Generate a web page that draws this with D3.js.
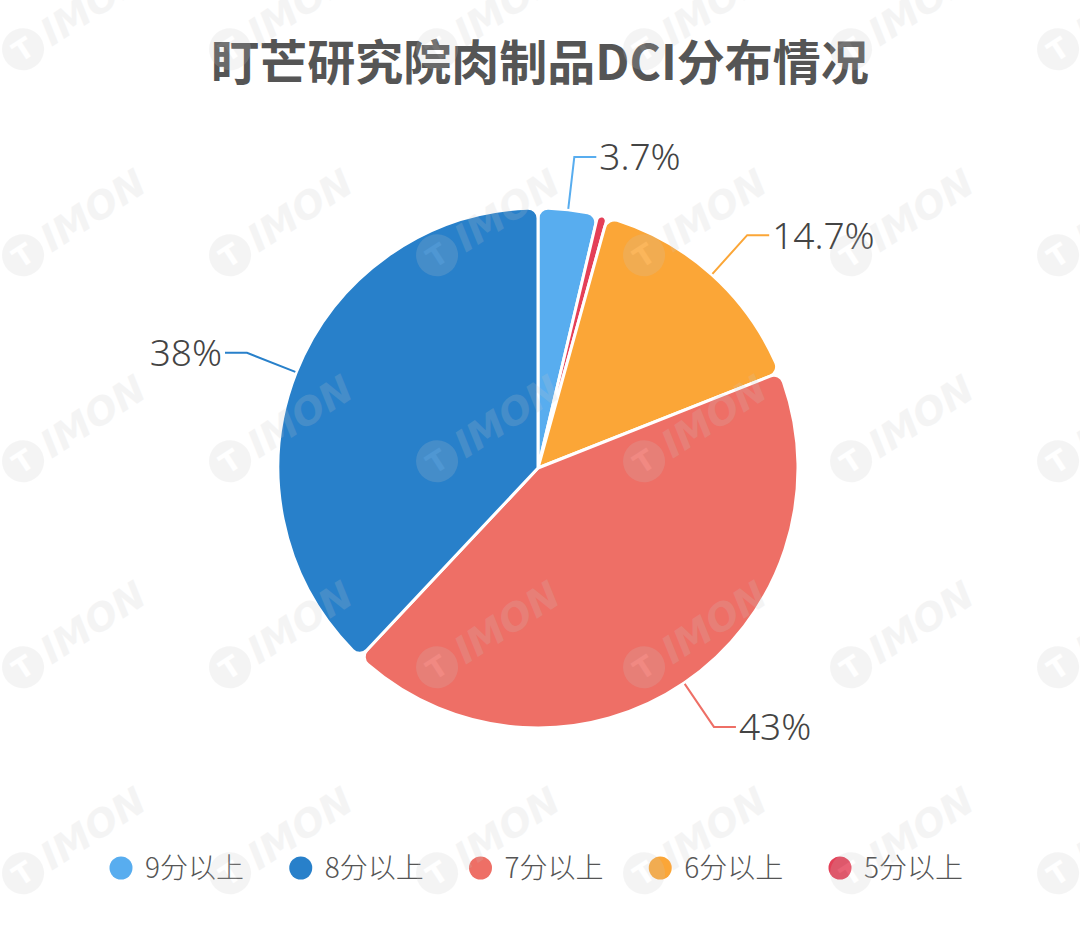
<!DOCTYPE html>
<html><head><meta charset="utf-8">
<script src="https://cdn.jsdelivr.net/npm/d3@7"></script>
<style>html,body{margin:0;padding:0;background:#fff;}svg{display:block;}</style>
</head><body>
<svg id="chart" width="1080" height="933"></svg>
<script>
const title = "盯芒研究院肉制品DCI分布情况";
const categories = ["9分以上", "5分以上", "6分以上", "7分以上", "8分以上"];
const values = [3.7, 0.6, 14.7, 43, 38];
const colors = ["#58ADEF", "#E43F57", "#FBA637", "#EE6F66", "#2880CA"];
const showLabel = [true, false, true, true, true];
const legendOrder = ["9分以上", "8分以上", "7分以上", "6分以上", "5分以上"];

const W = 1080, H = 933;
const svg = d3.select("#chart");
svg.append("rect").attr("width", W).attr("height", H).attr("fill", "#fff");

const cx = 538, cy = 468, R = 260;
const colorScale = d3.scaleOrdinal().domain(categories).range(colors);

// title
svg.append("text").attr("x", 540).attr("y", 80).attr("text-anchor", "middle")
  .attr("font-family", "'Noto Sans CJK SC', sans-serif").attr("font-weight", 700)
  .attr("font-size", 48).attr("fill", "#555").text(title);

const data = categories.map((c, i) => ({name: c, value: values[i], show: showLabel[i]}));
const pie = d3.pie().value(d => d.value).sort(null).startAngle(0).endAngle(2 * Math.PI);
const arcs = pie(data);
const arc = d3.arc().innerRadius(0).outerRadius(R).cornerRadius(10);

const g = svg.append("g").attr("transform", `translate(${cx},${cy})`);
g.selectAll("path.slice").data(arcs).join("path").attr("class", "slice")
  .attr("d", arc).attr("fill", d => colorScale(d.data.name))
  .attr("stroke", "#fff").attr("stroke-width", 3).attr("stroke-linejoin", "round");

// labels
const elbowR = 313, len2 = 22;
arcs.filter(d => d.data.show).forEach(d => {
  const a = (d.startAngle + d.endAngle) / 2;
  const sx = Math.sin(a), sy = -Math.cos(a);
  const p0 = [sx * (R + 1), sy * (R + 1)];
  const p1 = [sx * elbowR, sy * elbowR];
  const right = sx >= 0;
  const p2 = [p1[0] + (right ? len2 : -len2), p1[1]];
  g.append("polyline").attr("points", [p0, p1, p2].map(p => p.join(",")).join(" "))
    .attr("fill", "none").attr("stroke", colorScale(d.data.name)).attr("stroke-width", 2);
  g.append("text").attr("x", p2[0] + (right ? 3 : -3)).attr("y", p2[1])
    .attr("dy", "0.36em").attr("text-anchor", right ? "start" : "end")
    .attr("font-family", "'Noto Sans', sans-serif").attr("font-weight", 300).attr("font-size", 37)
    .attr("fill", "#444").text(d.data.value + "%");
});

// legend
const legendX = d3.scalePoint().domain(legendOrder).range([121, 840]);
const lg = svg.append("g");
legendOrder.forEach(name => {
  const x = legendX(name);
  lg.append("circle").attr("cx", x).attr("cy", 868).attr("r", 11.5).attr("fill", colorScale(name));
  lg.append("text").attr("x", x + 24).attr("y", 868).attr("dy", "0.36em")
    .attr("font-family", "'Noto Sans CJK SC', sans-serif").attr("font-weight", 300).attr("font-size", 28)
    .attr("fill", "#555").text(name);
});

// watermark
const wm = svg.append("g").attr("pointer-events", "none");
for (let j = 0; j < 5; j++) {
  for (let i = -1; i < 6; i++) {
    const x = 65 + 207 * i;
    const y = 22 + 206 * j;
    const m = wm.append("g").attr("transform", `translate(${x},${y}) rotate(-33)`)
      .attr("opacity", 0.18);
    m.append("circle").attr("cx", -50).attr("cy", 0).attr("r", 21).attr("fill", "#c8c8c8");
    m.append("text").attr("x", -50).attr("y", 0).attr("dy", "0.36em").attr("text-anchor", "middle")
      .attr("font-family", "'DejaVu Sans', sans-serif").attr("font-weight", 700)
      .attr("font-size", 28).attr("fill", "#fff").text("T");
    m.append("text").attr("x", -25).attr("y", 0).attr("dy", "0.36em")
      .attr("font-family", "'DejaVu Sans', sans-serif").attr("font-weight", 700).attr("font-style", "italic")
      .attr("font-size", 38).attr("fill", "#c8c8c8").text("IMON");
  }
}
</script>
</body></html>
